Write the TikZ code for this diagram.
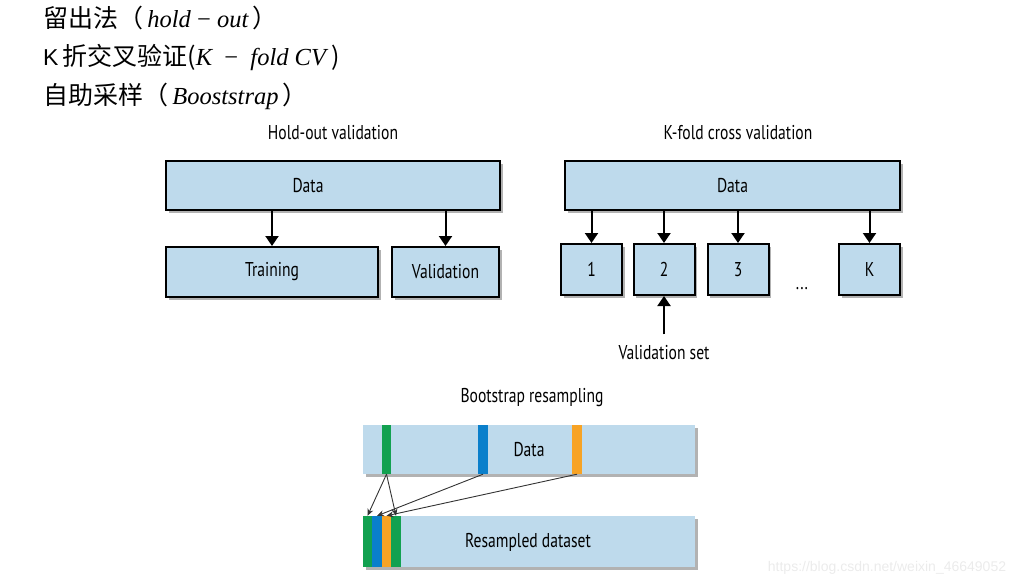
\documentclass[tikz,border=0pt]{standalone}
\usepackage{fontspec}
\setmainfont{Liberation Sans}
\newfontfamily\cjkfont{Noto Sans CJK SC}
\newfontfamily\tmsfont{Liberation Serif}
\newfontfamily\labelfont[FakeStretch=0.78]{PT Sans}
\newcommand\hz{\cjkfont\fontsize{25}{28}\selectfont}
\usetikzlibrary{positioning,arrows.meta,shadows}
\definecolor{boxblue}{HTML}{BEDAEC}
\definecolor{pickgreen}{HTML}{12A150}
\definecolor{pickblue}{HTML}{0A7FCB}
\definecolor{pickorange}{HTML}{F7A325}
\tikzset{
  block/.style={draw=black, line width=2pt, fill=boxblue, inner sep=0pt,
    font=\labelfont\fontsize{20}{24}\selectfont,
    drop shadow={shadow xshift=2.5pt, shadow yshift=-2.5pt, fill=black, opacity=0.3}},
  bar/.style={block, draw=none},
  stripe/.style={draw=none, inner sep=0pt, minimum width=9.5pt},
  title/.style={font=\labelfont\fontsize{20}{24}\selectfont},
  intro/.style={anchor=west, inner sep=0pt, font=\fontsize{23}{27}\selectfont},
  down/.style={-{Triangle[length=10pt,width=13pt]}, line width=2pt},
  pick/.style={-{Stealth[length=7pt,width=6pt]}, line width=0.9pt, draw=black!80},
}
\begin{document}
\begin{tikzpicture}[x=1pt,y=-1pt]
\useasboundingbox (0,0) rectangle (1032,586);
% method names
\node[intro] (l1) at (43,18) {{\hz 留出法（\,}{\tmsfont\itshape\fontsize{24.5}{28}\selectfont hold~\textup{−}~out}{\hz\,）}};
\node[intro] (l2) at (43,57) {K\,{\hz 折交叉验证(}{\tmsfont\itshape\fontsize{24.5}{28}\selectfont K\enspace\textup{−}\enspace fold~CV}{\hz ~)}};
\node[intro] (l3) at (43,96) {{\hz 自助采样（\,}{\tmsfont\itshape\fontsize{24.5}{28}\selectfont Booststrap}{\hz\,）}};
% hold-out
\node[title] (th) at (333,133) {Hold-out validation};
\node[block, minimum width=334pt, minimum height=49pt] (dh) at (333,185.5) {};
\node[title] (dht) at (308,185.5) {Data};
\node[block, minimum width=212pt, minimum height=50pt] (tr) at (272,272) {Training};
\node[block, minimum width=107pt, minimum height=50pt] (va) at (445.5,272) {Validation};
\draw[down] (dh.south -| tr.north) -- (tr.north);
\draw[down] (dh.south -| va.north) -- (va.north);
% k-fold
\node[title] (tk) at (738,133) {K-fold cross validation};
\node[block, minimum width=335pt, minimum height=49pt] (dk) at (732.5,185.5) {Data};
\foreach \n/\x in {1/591.5,2/664,3/738,K/869.5}{
  \node[block, minimum width=61pt, minimum height=51pt] (f\n) at (\x,269.5) {\n};
  \draw[down] (dk.south -| f\n.north) -- (f\n.north);}
\node[title] (dots) at (802,289) {...};
\node[title] (vs) at (664,353) {Validation set};
\draw[down] ([yshift=8pt]vs.north) -- (f2.south);
% bootstrap
\node[title] (tb) at (532,398) {Bootstrap resampling};
\node[bar, minimum width=332pt, minimum height=49pt] (db) at (529,449.5) {};
\node[stripe, fill=pickgreen, minimum height=49pt] (g1) at (386.5,449.5) {};
\node[stripe, fill=pickblue, minimum height=49pt] (b1) at (483,449.5) {};
\node[stripe, fill=pickorange, minimum height=49pt] (o1) at (577,449.5) {};
\node[title] (dbt) at (db) {Data};
\node[bar, minimum width=332pt, minimum height=51pt] (rb) at (529,541.5) {};
\node[stripe, fill=pickgreen, minimum height=51pt] (s1) at (367.5,541.5) {};
\node[stripe, fill=pickblue, minimum height=51pt] (s2) at (377,541.5) {};
\node[stripe, fill=pickorange, minimum height=51pt] (s3) at (386.5,541.5) {};
\node[stripe, fill=pickgreen, minimum height=51pt] (s4) at (396,541.5) {};
\node[title] (rbt) at (528,542) {Resampled dataset};
\draw[pick] (g1.south) -- (s1.north);
\draw[pick] (g1.south) -- (s4.north);
\draw[pick] (b1.south) -- (s2.north);
\draw[pick] (o1.south) -- (s3.north);
% watermark
\node[text=black!8, font=\fontsize{14}{16}\selectfont] (wm) at (887,568) {https://blog.csdn.net/weixin\_46649052};
\end{tikzpicture}
\end{document}
